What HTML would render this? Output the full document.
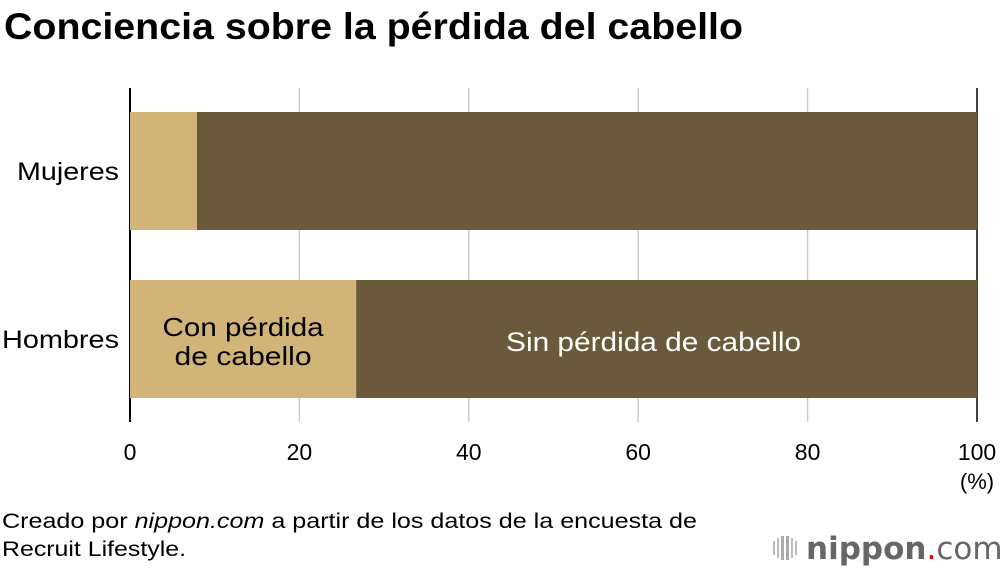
<!DOCTYPE html>
<html><head><meta charset="utf-8"><style>
body{margin:0;background:#fff;width:1000px;height:570px;overflow:hidden;font-family:"Liberation Sans",sans-serif}
</style></head><body>
<svg id="chart" width="1000" height="570" style="position:absolute;left:0;top:0">
<text x="4" y="39" font-size="37" font-weight="bold" fill="#000" textLength="739" lengthAdjust="spacingAndGlyphs">Conciencia sobre la pérdida del cabello</text>
<g id="grid"></g><g id="bars"></g><g id="ticks"></g>
<text x="977" y="489" font-size="22" text-anchor="middle" fill="#000">(%)</text>
<text x="2" y="528" font-size="21" fill="#000" textLength="695" lengthAdjust="spacingAndGlyphs">Creado por <tspan font-style="italic">nippon.com</tspan> a partir de los datos de la encuesta de</text>
<text x="2" y="556" font-size="21" fill="#000" textLength="184" lengthAdjust="spacingAndGlyphs">Recruit Lifestyle.</text>
<g>
<rect x="773" y="541" width="2" height="14" fill="#bbb"/><rect x="777" y="538" width="2" height="20" fill="#bbb"/><rect x="781" y="536" width="3" height="24" fill="#aaa"/><rect x="786" y="536" width="3" height="24" fill="#aaa"/><rect x="791" y="538" width="2" height="20" fill="#bbb"/><rect x="795" y="541" width="2" height="14" fill="#bbb"/>
<text x="806" y="559" font-size="31" fill="#666" font-family="'DejaVu Sans',sans-serif"><tspan font-weight="bold">nippon</tspan><tspan fill="#e00">.</tspan><tspan>com</tspan></text>
</g>
</svg>
<script>
const categories=["Mujeres","Hombres"];
const withLoss=[7.9,26.7];
const ticks=[0,20,40,60,80,100];
const NS="http://www.w3.org/2000/svg";
const x=v=>130+v*8.47;
const rowY=[112,280], barH=118;
function mk(tag,attrs,parent,txt){const e=document.createElementNS(NS,tag);for(const k in attrs)e.setAttribute(k,attrs[k]);if(txt!==undefined)e.textContent=txt;document.getElementById(parent).appendChild(e);return e;}
ticks.forEach(t=>{
 if(t>0){const g=mk('line',{x1:x(t),x2:x(t),y1:88,y2:422,stroke:t===100?'#000':'#ccc','stroke-width':1.5},'grid');
 
 }
 const l=mk('text',{x:x(t),y:460,'font-size':23,'text-anchor':'middle',fill:'#000'},'ticks',t);
 
 
});
const catW=[102,117];
categories.forEach((c,i)=>{
 const y=rowY[i];
 const a=mk('rect',{x:x(0),y:y,width:x(withLoss[i])-x(0),height:barH,fill:'#d2b478'},'bars');
 
 
 const b=mk('rect',{x:x(withLoss[i]),y:y,width:x(100)-x(withLoss[i]),height:barH,fill:'#6a5a3b'},'bars');
 
 
 const l=mk('text',{x:119,y:y+barH/2+9,'font-size':25,'text-anchor':'end',fill:'#000',textLength:catW[i],lengthAdjust:'spacingAndGlyphs'},'bars',c);
 
 
});
const ax=mk('line',{x1:130,x2:130,y1:88,y2:422,stroke:'#000','stroke-width':2},'grid');


const hy=rowY[1];
const cx=(x(0)+x(withLoss[1]))/2;
const t1=mk('text',{x:cx,y:hy+56,'font-size':26,'text-anchor':'middle',fill:'#000',textLength:161,lengthAdjust:'spacingAndGlyphs'},'bars','Con pérdida');


const t2=mk('text',{x:cx,y:hy+85,'font-size':26,'text-anchor':'middle',fill:'#000',textLength:137,lengthAdjust:'spacingAndGlyphs'},'bars','de cabello');


const t3=mk('text',{x:(x(withLoss[1])+x(100))/2-13,y:hy+71,'font-size':27,'text-anchor':'middle',fill:'#fff',textLength:295,lengthAdjust:'spacingAndGlyphs'},'bars','Sin pérdida de cabello');


</script>
</body></html>
